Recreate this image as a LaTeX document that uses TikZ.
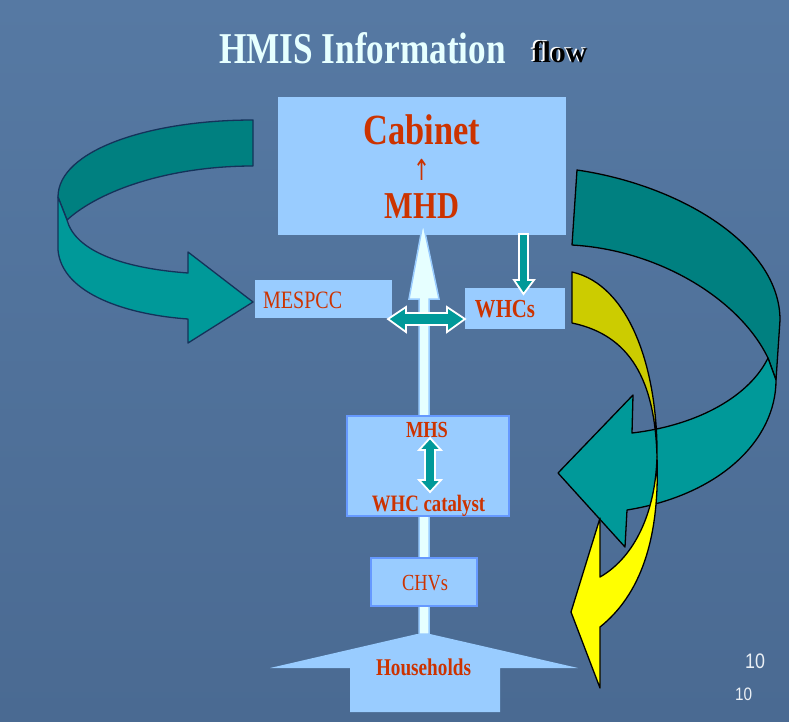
\documentclass[tikz,border=0pt]{standalone}
\usepackage{fontspec}
\setmainfont{Liberation Serif}[FakeStretch=0.8]
\newfontfamily\flowfont{Liberation Serif}
\newfontfamily\numfont{Liberation Sans}[FakeStretch=0.85]
\newfontfamily\symfont{DejaVu Sans}[FakeStretch=0.7]
\definecolor{bgtop}{RGB}{86,121,163}
\definecolor{bgbot}{RGB}{74,106,146}
\definecolor{boxblue}{RGB}{153,204,255}
\definecolor{txtred}{RGB}{204,51,0}
\definecolor{tealdark}{RGB}{0,128,128}
\definecolor{teallight}{RGB}{0,153,153}
\definecolor{ydark}{RGB}{204,204,0}
\definecolor{ylight}{RGB}{255,255,0}
\definecolor{lcyan}{RGB}{230,255,255}
\definecolor{navyline}{RGB}{20,50,90}
\definecolor{mhsborder}{RGB}{102,153,255}
\definecolor{titlecol}{RGB}{230,255,255}
\definecolor{numcol}{RGB}{235,240,245}
\tikzset{
  bluebox/.style={fill=boxblue, draw=none, inner sep=0pt},
  framedbox/.style={fill=boxblue, draw=mhsborder, line width=2pt, inner sep=0pt},
  lbl/.style={text=txtred, anchor=base, inner sep=0pt},
  ribbon/.style={line width=1.3pt, line join=round},
  tealblock/.style={fill=teallight, draw=white, line width=1.8pt, line join=miter},
}
\begin{document}
\begin{tikzpicture}[x=1pt,y=-1pt]
\useasboundingbox (0,0) rectangle (789,721);
\shade[top color=bgtop,bottom color=bgbot] (0,0) rectangle (789,721);

% title
\node[anchor=base, inner sep=0pt, text=titlecol] (title) at (362.5,63)
  {\fontsize{44}{44}\selectfont\bfseries HMIS Information};
\node[anchor=base, inner sep=0pt, text=black] (flow) at (560,62)
  {\flowfont\fontsize{30}{30}\selectfont\bfseries
   \makebox[0pt][l]{\hspace{-1.8pt}\raisebox{0.7pt}{\textcolor{white}{flow}}}flow};

% left curved ribbon arrow
\draw[ribbon, draw=navyline, fill=tealdark]
  (253,120) .. controls (150,120) and (58,150) .. (58,197)
  -- (67,220) .. controls (100,190) and (170,166) .. (253,166) -- cycle;
\draw[ribbon, draw=navyline, fill=teallight]
  (58,197) -- (58,250) .. controls (62,295) and (130,315) .. (188,319)
  -- (188,343) -- (253,302) -- (188,252) -- (188,273)
  .. controls (120,268) and (75,250) .. (67,220) -- cycle;

% right big teal ribbon arrow
\draw[ribbon, draw=black, fill=tealdark]
  (577,170) .. controls (680,185) and (780,245) .. (780,320)
  -- (776,380) -- (768,358)
  .. controls (740,300) and (660,250) .. (572,245) -- cycle;
\draw[ribbon, draw=black, fill=teallight]
  (768,358) -- (776,380) .. controls (776,440) and (720,495) .. (627,510)
  -- (625,547) -- (558,473) -- (633,395) -- (632,433)
  .. controls (700,425) and (750,395) .. (768,358) -- cycle;

% yellow ribbon arrow
\draw[ribbon, draw=black, fill=ydark]
  (572,272) .. controls (630,285) and (658,370) .. (657,457)
  .. controls (655,380) and (630,335) .. (572,323) -- cycle;
\draw[ribbon, draw=black, fill=ylight]
  (657,457) .. controls (660,540) and (640,595) .. (600,627)
  -- (600,688) -- (571,612) -- (600,518) -- (600,577)
  .. controls (630,560) and (655,520) .. (657,457) -- cycle;

% boxes
\node[bluebox, minimum width=288pt, minimum height=138pt] (cab) at (422,166) {};
\node[bluebox, minimum width=137pt, minimum height=38pt] (mes) at (323.5,299) {};
\node[bluebox, minimum width=100pt, minimum height=41pt] (whc) at (515,308.5) {};

% light vertical arrow (households to MHD)
\draw[fill=lcyan, draw=boxblue, line width=1.5pt, line join=miter]
  (419,634) -- (419,299) -- (409,299) -- (423,223) -- (439,299)
  -- (429,299) -- (429,634) -- cycle;

% households block
\fill[boxblue] (270,668) -- (417,634) -- (430,634) -- (578,668)
  -- (500,668) -- (500,712) -- (350,712) -- (350,668) -- cycle;

\node[framedbox, minimum width=162pt, minimum height=100pt] (mhs) at (428,466) {};
\node[framedbox, minimum width=106pt, minimum height=48pt] (chv) at (424,582) {};

% teal down arrow cabinet -> WHCs
\draw[tealblock]
  (519,234) -- (528,234) -- (528,280) -- (534,280) -- (523.5,294)
  -- (514,280) -- (519,280) -- cycle;

% teal horizontal double arrow
\draw[tealblock]
  (388,319) -- (406,307) -- (406,313) -- (447,313) -- (447,307)
  -- (465,319) -- (447,332) -- (447,325) -- (406,325) -- (406,332) -- cycle;

% teal vertical double arrow in MHS box
\draw[tealblock]
  (430,438) -- (441,450) -- (435,450) -- (435,480) -- (441,480)
  -- (430,492) -- (419,480) -- (425,480) -- (425,450) -- (419,450) -- cycle;

% labels
\node[lbl] (cabt) at (422,144) {\fontsize{43}{43}\selectfont\bfseries Cabinet};
\node[lbl] (upar) at (422,180) {\symfont\fontsize{29}{29}\selectfont ↑};
\node[lbl] (mhdt) at (422,218) {\fontsize{38}{38}\selectfont\bfseries MHD};
\node[lbl, anchor=base west] (mest) at (263,308) {\fontsize{25}{25}\selectfont MESPCC};
\node[lbl] (whct) at (505,317) {\fontsize{26}{26}\selectfont\bfseries WHCs};
\node[lbl] (mhst) at (427,437) {\fontsize{23}{23}\selectfont\bfseries MHS};
\node[lbl] (catt) at (428.5,511) {\fontsize{23.5}{23.5}\selectfont\bfseries WHC catalyst};
\node[lbl] (chvt) at (425,590) {\fontsize{23}{23}\selectfont CHVs};
\node[lbl] (hht) at (423.5,675) {\fontsize{24}{24}\selectfont\bfseries Households};

% page numbers
\node[anchor=base, inner sep=0pt, text=numcol] (pn1) at (755,668)
  {\numfont\fontsize{21}{21}\selectfont 10};
\node[anchor=base, inner sep=0pt, text=numcol] (pn2) at (743.5,700)
  {\numfont\fontsize{18}{18}\selectfont 10};
\end{tikzpicture}
\end{document}
